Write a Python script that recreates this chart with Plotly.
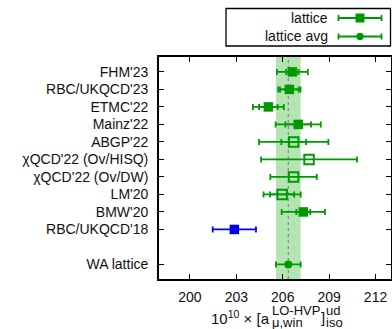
import plotly.graph_objects as go

labels = ["FHM'23", "RBC/UKQCD'23", "ETMC'22", "Mainz'22", "ABGP'22",
          "χQCD'22 (Ov/HISQ)", "χQCD'22 (Ov/DW)", "LM'20", "BMW'20",
          "RBC/UKQCD'18", "WA lattice"]
ypos = [11, 10, 9, 8, 7, 6, 5, 4, 3, 2, 0]
values = [206.62, 206.43, 205.07, 207.00, 206.71, 207.70, 206.70, 205.96, 207.33, 202.87, 206.36]
err_total = [1.00, 0.72, 1.00, 1.46, 2.24, 3.10, 1.50, 1.20, 1.40, 1.40, 0.80]
err_stat = [0.40, 0.60, 0.60, 0.83, 0.80, None, None, 0.78, 0.45, None, None]
kind = ["filled", "filled", "filled", "filled", "open", "open", "open", "open",
        "filled", "blue", "avg"]
xticks = [200, 203, 206, 209, 212]

GREEN = "#009900"
BLUE = "#0000ee"
FONT = "Liberation Sans, Arial, sans-serif"
FS = 14

W, H = 392, 329
ML, MR, MT, MB = 159, 1, 57, 50
PW, PH = W - ML - MR, H - MT - MB


def px(x):
    return (x - ML) / PW


def py(y):
    return (H - MB - y) / PH


fig = go.Figure()

# WA band and central dashed line
wa = labels.index("WA lattice")
fig.add_shape(type="rect", xref="x", yref="paper",
              x0=values[wa] - err_total[wa], x1=values[wa] + err_total[wa],
              y0=0, y1=1, fillcolor="rgba(0,170,0,0.3)", line=dict(width=0),
              layer="below")
fig.add_shape(type="line", xref="x", yref="paper",
              x0=values[wa], x1=values[wa], y0=0, y1=1,
              line=dict(color="#888888", width=1.2, dash="3px,3px"), layer="below")


def sel(k):
    return [i for i, kk in enumerate(kind) if kk == k]


# stat error bars (inner caps)
idx = [i for i, e in enumerate(err_stat) if e is not None]
fig.add_trace(go.Scatter(
    x=[values[i] for i in idx], y=[ypos[i] for i in idx], mode="markers",
    marker=dict(size=1, color="rgba(0,0,0,0)"),
    error_x=dict(type="data", array=[err_stat[i] for i in idx], color=GREEN,
                 thickness=1.8, width=3),
    showlegend=False, hoverinfo="skip"))

styles = {
    "filled": dict(symbol="square", color=GREEN, size=9.5, line=dict(width=0)),
    "open": dict(symbol="square-open", color=GREEN, size=9.5, line=dict(width=2, color=GREEN)),
    "blue": dict(symbol="square", color=BLUE, size=9.5, line=dict(width=0)),
    "avg": dict(symbol="circle", color=GREEN, size=8, line=dict(width=0)),
}
for k, st in styles.items():
    ii = sel(k)
    col = BLUE if k == "blue" else GREEN
    fig.add_trace(go.Scatter(
        x=[values[i] for i in ii], y=[ypos[i] for i in ii], mode="markers",
        marker=st,
        error_x=dict(type="data", array=[err_total[i] for i in ii], color=col,
                     thickness=1.8, width=3),
        showlegend=False))

# manual legend
shapes = []
shapes.append(dict(type="rect", xref="paper", yref="paper",
                   x0=px(226), x1=px(390.5), y0=py(46), y1=py(8.5),
                   line=dict(color="black", width=1.3), fillcolor="white"))
for yy, sym in [(18, "square"), (36.5, "circle")]:
    shapes.append(dict(type="line", xref="paper", yref="paper",
                       x0=px(338.5), x1=px(381.5), y0=py(yy), y1=py(yy),
                       line=dict(color=GREEN, width=1.8)))
    for xc in (338.5, 381.5):
        shapes.append(dict(type="line", xref="paper", yref="paper",
                           x0=px(xc), x1=px(xc), y0=py(yy - 3), y1=py(yy + 3),
                           line=dict(color=GREEN, width=1.8)))
    if sym == "square":
        shapes.append(dict(type="rect", xref="paper", yref="paper",
                           x0=px(355.5), x1=px(364.5), y0=py(yy + 4.5), y1=py(yy - 4.5),
                           fillcolor=GREEN, line=dict(width=0)))
    else:
        shapes.append(dict(type="circle", xref="paper", yref="paper",
                           x0=px(356.3), x1=px(363.7), y0=py(yy + 3.7), y1=py(yy - 3.7),
                           fillcolor=GREEN, line=dict(width=0)))
for s in shapes:
    fig.add_shape(**s)

ann = []
ann.append(dict(text="lattice", x=px(329), y=py(18), xanchor="right", yanchor="middle"))
ann.append(dict(text="lattice avg", x=px(329), y=py(36.5), xanchor="right", yanchor="middle"))

# x-axis title, built from stacked pieces
SS = 13
ann.append(dict(text="10<sup>10</sup> × [a", x=px(271), y=py(317), xanchor="right",
                yanchor="middle", font=dict(size=15)))
ann.append(dict(text="LO-HVP", x=px(271), y=py(310.5), xanchor="left", yanchor="middle",
                font=dict(size=SS)))
ann.append(dict(text="μ,win", x=px(271), y=py(322.5), xanchor="left", yanchor="middle",
                font=dict(size=SS)))
ann.append(dict(text="]", x=px(319.5), y=py(317), xanchor="left", yanchor="middle",
                font=dict(size=15)))
ann.append(dict(text="ud", x=px(325), y=py(310.5), xanchor="left", yanchor="middle",
                font=dict(size=SS)))
ann.append(dict(text="iso", x=px(325), y=py(322.5), xanchor="left", yanchor="middle",
                font=dict(size=SS)))
for a in ann:
    f = dict(family=FONT, size=FS, color="#111111")
    f.update(a.pop("font", {}))
    fig.add_annotation(xref="paper", yref="paper", showarrow=False, font=f,
                       borderpad=0, **a)

axis_common = dict(showline=True, linecolor="black", linewidth=1.8, mirror="ticks",
                   ticks="inside", ticklen=5, tickwidth=1.2, tickcolor="black",
                   showgrid=False, zeroline=False, automargin=False,
                   tickfont=dict(family=FONT, size=FS, color="#111111"))

fig.update_xaxes(range=[198, 213], tickvals=xticks, ticktext=[str(t) for t in xticks],
                 ticklabelstandoff=4, **axis_common)
fig.update_yaxes(range=[-0.83, 11.85], tickvals=ypos, ticktext=labels,
                 ticklabelstandoff=6, **axis_common)

fig.update_layout(width=W, height=H, margin=dict(l=ML, r=MR, t=MT, b=MB),
                  plot_bgcolor="white", paper_bgcolor="white", showlegend=False,
                  font=dict(family=FONT))

fig.write_html("out.html", config={"displayModeBar": False},
               post_script="document.body.style.margin='0';document.body.style.overflow='hidden';")
